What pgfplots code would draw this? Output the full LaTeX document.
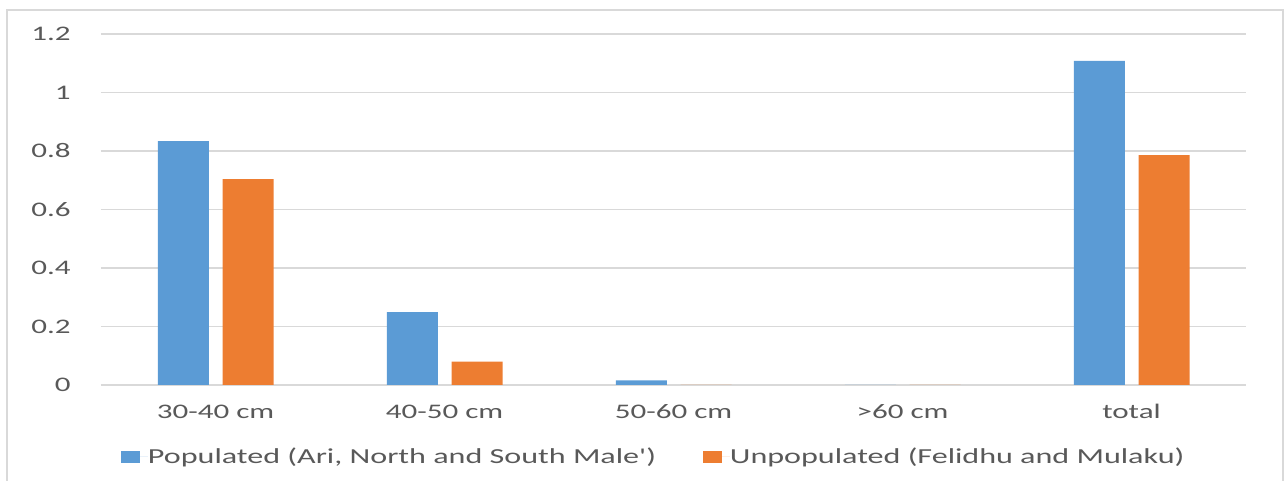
\documentclass[border=0pt]{standalone}
\usepackage{fontspec}
\setmainfont[FakeStretch=1.5, Ligatures=TeXOff]{Carlito}
\usepackage{pgfplots}
\pgfplotsset{compat=1.18}

\definecolor{popblue}{HTML}{5B9BD5}
\definecolor{unpoporange}{HTML}{ED7D31}
\definecolor{labelgray}{HTML}{595959}
\definecolor{gridgray}{HTML}{D9D9D9}

\begin{document}
\begin{tikzpicture}
\begin{axis}[
  name=main,
  at={(0,0)}, anchor=south west,
  scale only axis,
  width=572.5pt, height=175.5pt,
  xmin=-0.5, xmax=4.5,
  ymin=0, ymax=1.2,
  xtick={0,1,2,3,4},
  xticklabels={30-40 cm,40-50 cm,50-60 cm,>60 cm,total},
  ytick={0,0.2,0.4,0.6,0.8,1,1.2},
  /pgf/number format/assume math mode=true,
  major tick length=0pt,
  axis line style={draw=none},
  ymajorgrids,
  grid style={gridgray, line width=0.65pt},
  tick label style={font=\fontsize{10.35pt}{12pt}\selectfont, text=labelgray},
  yticklabel style={anchor=east, inner sep=0pt, xshift=-15pt},
  xticklabel style={anchor=base, inner sep=0pt, yshift=-16.5pt},
  ybar, bar width=0.2227,
  legend columns=2,
  legend style={
    at={(0.482,-0.205)}, anchor=center, draw=none, fill=none,
    font=\fontsize{10.7pt}{12pt}\selectfont, text=labelgray,
    nodes={inner sep=0pt},
    /tikz/every even column/.append style={column sep=23.5pt},
  },
  legend image code/.code={
    \fill[#1, draw=none] (0pt,-2.9pt) rectangle (9.5pt,2.9pt);
    \path (0pt,0pt) -- (13.4pt,0pt);
  },
]
\addplot[fill=popblue, draw=none, bar shift=-0.14] coordinates {
  (0,0.834) (1,0.249) (2,0.016) (3,0) (4,1.108)
};
\addlegendentry{Populated (Ari, North and South Male')}
\addplot[fill=unpoporange, draw=none, bar shift=0.142] coordinates {
  (0,0.704) (1,0.080) (2,0) (3,0) (4,0.786)
};
\addlegendentry{Unpopulated (Felidhu and Mulaku)}
\end{axis}
% outer chart frame
\useasboundingbox (-50.5pt,-48pt) rectangle (591.5pt,192.5pt);
\draw[gridgray, line width=0.8pt] (-47pt,-60pt) -- (-47pt,187.5pt) -- (591pt,187.5pt) -- (591pt,-60pt);
\end{tikzpicture}
\end{document}
